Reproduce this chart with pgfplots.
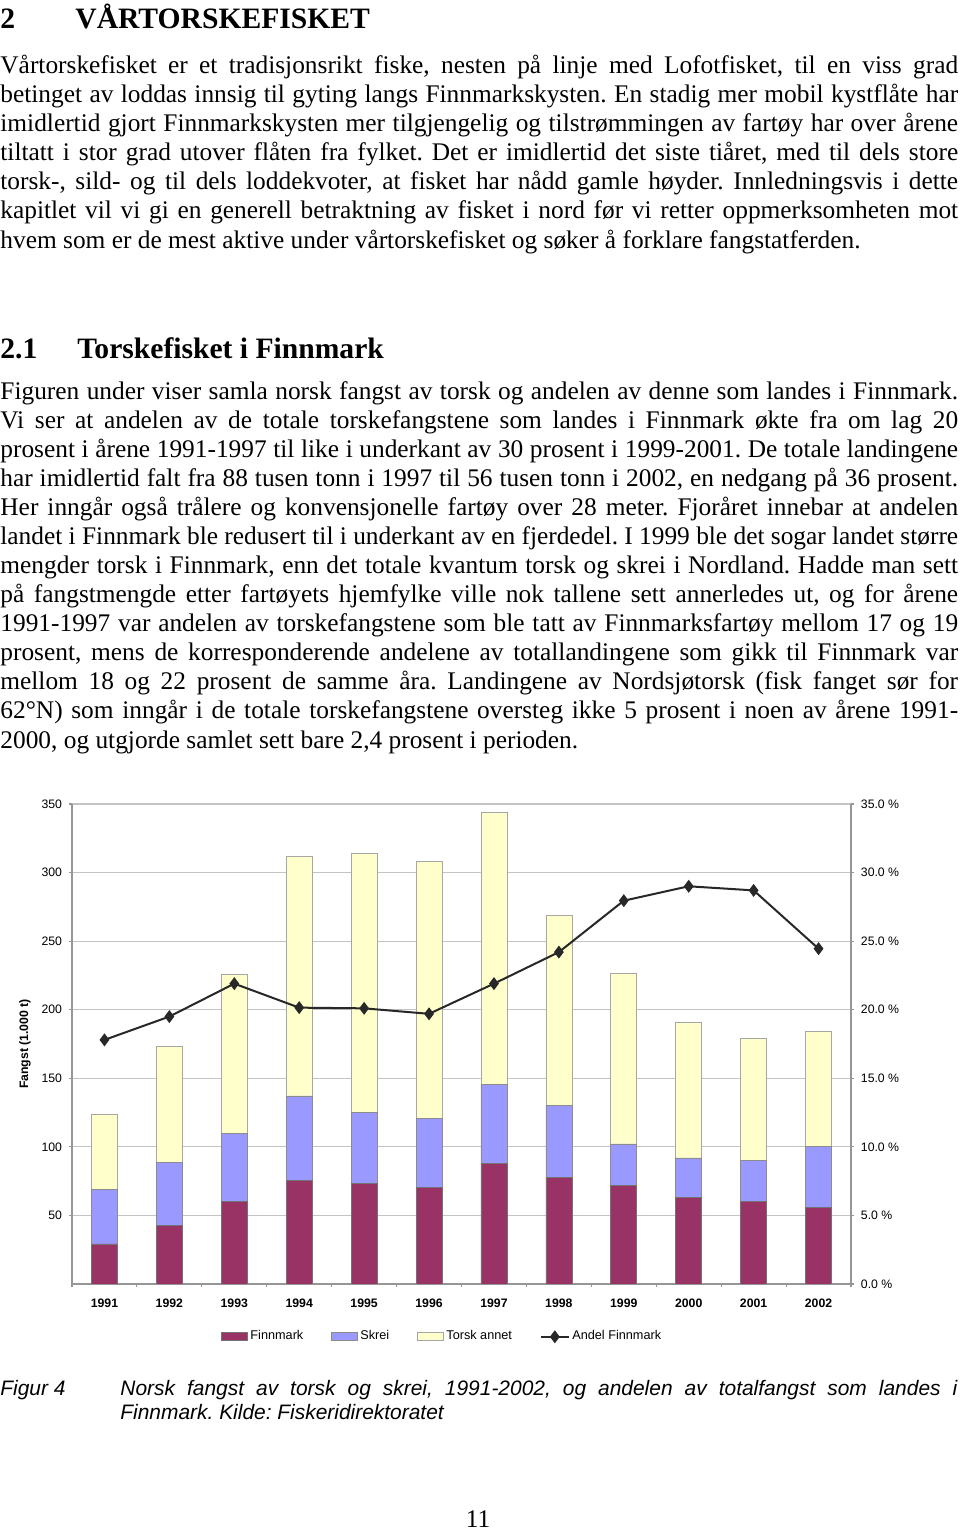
\documentclass[border=0pt]{standalone}
\usepackage{pgfplots}
\usepackage{pgfplotstable}
\pgfplotsset{compat=1.18}
\usepackage{fontspec}
\setmainfont{Liberation Serif}
\newfontfamily\arial{Liberation Sans}
\definecolor{fin}{RGB}{153,51,102}
\definecolor{skr}{RGB}{153,153,255}
\definecolor{tor}{RGB}{255,255,204}
\definecolor{gridc}{RGB}{195,195,195}
\definecolor{axc}{RGB}{150,150,150}
\definecolor{linec}{RGB}{40,40,40}
\newcommand\cf{\arial\fontsize{5.8}{7}\selectfont}
\newcommand\jl[2]{\node[anchor=base west,inner sep=0pt] at (0pt,{-#1*0.473pt}) {\makebox[453pt][s]{#2}};}
\newcommand\pl[2]{\node[anchor=base west,inner sep=0pt] at (0pt,{-#1*0.473pt}) {#2};}
\pgfplotsset{
  barleg/.style={legend image code/.code={\draw[##1] (0pt,-1.9pt) rectangle (12.3pt,1.9pt);}},
  lineleg/.style={legend image code/.code={\draw[mark repeat=2,mark phase=2,##1] plot coordinates {(0pt,0pt) (6.6pt,0pt) (13.2pt,0pt)};}},
}
\pgfplotstableread{
x fin skr tor
0 29.2 39.8 55.0
1 42.8 45.9 84.6
2 60.5 49.4 116.1
3 75.6 61.5 174.7
4 73.6 51.6 188.8
5 70.7 50.3 187.2
6 88.0 57.6 198.1
7 77.8 52.7 138.3
8 71.7 30.4 124.7
9 63.4 28.5 98.9
10 60.0 30.4 88.5
11 55.9 44.2 84.4
}\bars
\pgfplotstableread{
x andel
0 17.8
1 19.5
2 21.9
3 20.15
4 20.1
5 19.7
6 21.9
7 24.2
8 27.95
9 29.0
10 28.7
11 24.45
}\andel
\begin{document}
\frenchspacing
\fontsize{12}{14}\selectfont
\begin{tikzpicture}
\path[use as bounding box] (0pt,0pt) rectangle ({960*0.473pt},{-1531*0.473pt});
\fill[white] (0pt,0pt) rectangle ({960*0.473pt},{-1531*0.473pt});
% heading 1
\node[anchor=base west,inner sep=0pt] at (0pt,{-28*0.473pt}) {\fontsize{14}{16}\selectfont\bfseries 2};
\node[anchor=base west,inner sep=0pt] at ({75*0.473pt},{-28*0.473pt}) {\fontsize{14}{16}\selectfont\bfseries VÅRTORSKEFISKET};
% paragraph 1
\jl{73}{Vårtorskefisket er et tradisjonsrikt fiske, nesten på linje med Lofotfisket, til en viss grad}
\jl{102.2}{betinget av loddas innsig til gyting langs Finnmarkskysten. En stadig mer mobil kystflåte har}
\jl{131.3}{imidlertid gjort Finnmarkskysten mer tilgjengelig og tilstrømmingen av fartøy har over årene}
\jl{160.5}{tiltatt i stor grad utover flåten fra fylket. Det er imidlertid det siste tiåret, med til dels store}
\jl{189.7}{torsk-, sild- og til dels loddekvoter, at fisket har nådd gamle høyder. Innledningsvis i dette}
\jl{218.8}{kapitlet vil vi gi en generell betraktning av fisket i nord før vi retter oppmerksomheten mot}
\pl{248}{hvem som er de mest aktive under vårtorskefisket og søker å forklare fangstatferden.}
% heading 2
\node[anchor=base west,inner sep=0pt] at (0pt,{-358*0.473pt}) {\fontsize{14}{16}\selectfont\bfseries 2.1};
\node[anchor=base west,inner sep=0pt] at ({77*0.473pt},{-358*0.473pt}) {\fontsize{14}{16}\selectfont\bfseries Torskefisket i Finnmark};
% paragraph 2
\jl{399}{Figuren under viser samla norsk fangst av torsk og andelen av denne som landes i Finnmark.}
\jl{428.1}{Vi ser at andelen av de totale torskefangstene som landes i Finnmark økte fra om lag 20}
\jl{457.2}{prosent i årene 1991-1997 til like i underkant av 30 prosent i 1999-2001. De totale landingene}
\jl{486.2}{har imidlertid falt fra 88 tusen tonn i 1997 til 56 tusen tonn i 2002, en nedgang på 36 prosent.}
\jl{515.3}{Her inngår også trålere og konvensjonelle fartøy over 28 meter. Fjoråret innebar at andelen}
\jl{544.4}{landet i Finnmark ble redusert til i underkant av en fjerdedel. I 1999 ble det sogar landet større}
\jl{573.5}{mengder torsk i Finnmark, enn det totale kvantum torsk og skrei i Nordland. Hadde man sett}
\jl{602.6}{på fangstmengde etter fartøyets hjemfylke ville nok tallene sett annerledes ut, og for årene}
\jl{631.6}{1991-1997 var andelen av torskefangstene som ble tatt av Finnmarksfartøy mellom 17 og 19}
\jl{660.7}{prosent, mens de korresponderende andelene av totallandingene som gikk til Finnmark var}
\jl{689.8}{mellom 18 og 22 prosent de samme åra. Landingene av Nordsjøtorsk (fisk fanget sør for}
\jl{718.9}{62°N) som inngår i de totale torskefangstene oversteg ikke 5 prosent i noen av årene 1991-}
\pl{748}{2000, og utgjorde samlet sett bare 2,4 prosent i perioden.}
% caption
\node[anchor=base west,inner sep=0pt] at (0pt,{-1395*0.473pt}) {\arial\itshape\fontsize{9.9}{12}\selectfont Figur 4};
\node[anchor=base west,inner sep=0pt] at ({120*0.473pt},{-1395*0.473pt}) {\arial\itshape\fontsize{9.9}{12}\selectfont\makebox[395.9pt][s]{Norsk fangst av torsk og skrei, 1991-2002, og andelen av totalfangst som landes i}};
\node[anchor=base west,inner sep=0pt] at ({120*0.473pt},{-1419*0.473pt}) {\arial\itshape\fontsize{9.9}{12}\selectfont Finnmark. Kilde: Fiskeridirektoratet};
% page number
\node[anchor=base,inner sep=0pt] at ({478*0.473pt},{-1527.5*0.473pt}) {11};
% chart: bars
\begin{axis}[
  at={(34.06pt,-607.33pt)}, anchor=south west, scale only axis,
  width=368.47pt, height=227.04pt,
  xmin=-0.5, xmax=11.5, ymin=0, ymax=350,
  ybar stacked, bar width=0.4,
  axis x line*=bottom, axis y line*=left,
  axis line style={draw=axc, line width=0.5pt, -},
  xtick={0,...,11},
  xticklabels={1991,1992,1993,1994,1995,1996,1997,1998,1999,2000,2001,2002},
  major x tick style={draw=none},
  minor xtick={-0.5,0.5,...,11.5},
  minor x tick style={draw=axc, line width=0.5pt},
  tick align=outside, major tick length=1.5pt, minor tick length=1.5pt,
  xticklabel style={font=\cf\bfseries, inner sep=0pt, yshift=-5.4pt},
  ytick={50,100,...,350},
  yticklabels={50,100,150,200,250,300,350},
  yticklabel style={font=\cf, inner sep=0pt, xshift=-3pt},
  y tick style={draw=axc, line width=0.5pt},
  ymajorgrids, grid style={draw=gridc, line width=0.5pt},
  ylabel={\bfseries Fangst (1.000 t)},
  ylabel style={font=\cf, at={(axis description cs:-0.0603,0.5)}, anchor=center},
]
\addplot[fill=fin, draw=black!55, line width=0.3pt] table[x=x,y=fin]{\bars};
\addplot[fill=skr, draw=black!45, line width=0.3pt] table[x=x,y=skr]{\bars};
\addplot[fill=tor, draw=black!35, line width=0.3pt] table[x=x,y=tor]{\bars};
\end{axis}
% chart: share line
\begin{axis}[
  at={(34.06pt,-607.33pt)}, anchor=south west, scale only axis,
  width=368.47pt, height=227.04pt,
  xmin=-0.5, xmax=11.5, ymin=0, ymax=35,
  axis x line=none, axis y line*=right,
  axis line style={draw=axc, line width=0.5pt, -},
  ytick={0,5,...,35},
  yticklabels={0.0 \%,5.0 \%,10.0 \%,15.0 \%,20.0 \%,25.0 \%,30.0 \%,35.0 \%},
  tick align=outside, major tick length=1.5pt,
  y tick style={draw=axc, line width=0.5pt},
  yticklabel style={font=\cf, inner sep=0pt, xshift=3pt, anchor=west},
  legend style={at={(0.4756,-0.110)}, anchor=center, draw=none, fill=none,
    font=\arial\fontsize{6}{7}\selectfont, legend columns=4,
    nodes={inner sep=1.2pt},
    /tikz/every even column/.append style={column sep=12pt}},
  legend cell align=left,
]
\addlegendimage{barleg, fill=fin, draw=black!55, line width=0.3pt}
\addlegendimage{barleg, fill=skr, draw=black!45, line width=0.3pt}
\addlegendimage{barleg, fill=tor, draw=black!35, line width=0.3pt}
\addplot[color=linec, line width=0.95pt, mark=diamond*, mark size=2.3pt, lineleg] table[x=x,y=andel]{\andel};
\legend{Finnmark, Skrei, Torsk annet, Andel Finnmark}
\end{axis}
\end{tikzpicture}
\end{document}
